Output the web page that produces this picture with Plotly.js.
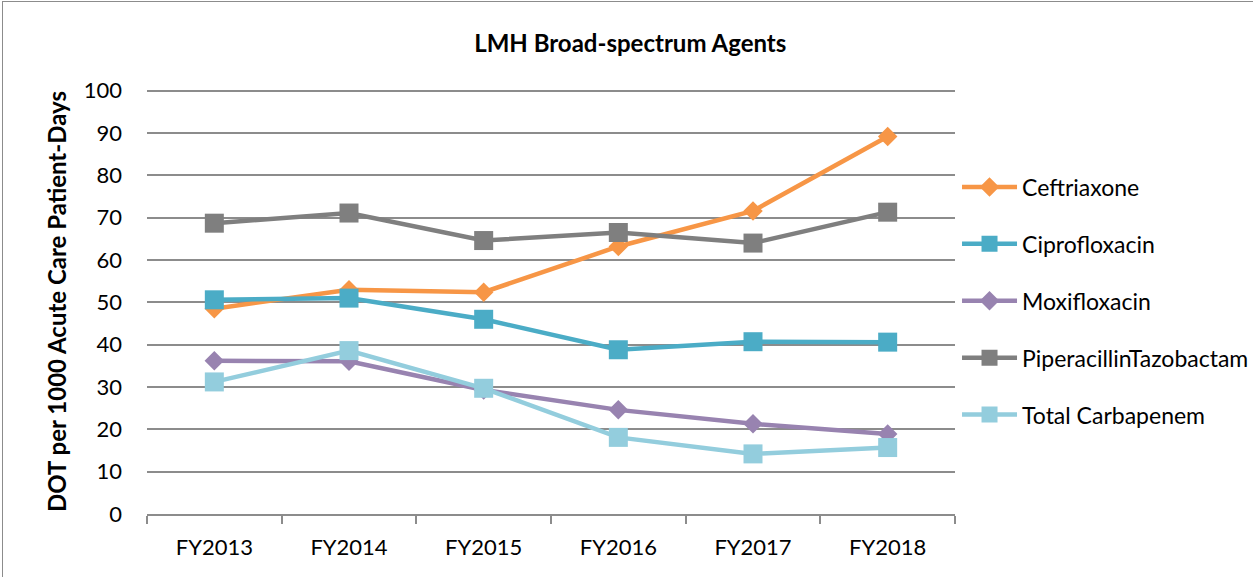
<!DOCTYPE html>
<html><head><meta charset="utf-8">
<script src="https://cdn.plot.ly/plotly-3.0.1.min.js"></script>
<style>
html,body{margin:0;padding:0;background:#fff;overflow:hidden}
#frame{position:absolute;left:2px;top:1px;width:1300px;height:640px;border:1px solid #8c8c8c;box-sizing:border-box}
#chart{position:absolute;left:0;top:0;width:1253px;height:577px}
</style></head>
<body>
<div id="frame"></div>
<div id="chart"></div>
<script>
const years = ["FY2013","FY2014","FY2015","FY2016","FY2017","FY2018"];
const ceftriaxone = [48.5, 53.0, 52.4, 63.2, 71.6, 89.2];
const ciprofloxacin = [50.6, 51.0, 46.0, 38.8, 40.7, 40.6];
const moxifloxacin = [36.2, 36.1, 29.3, 24.6, 21.3, 18.9];
const piperacillin = [68.7, 71.1, 64.6, 66.5, 64.0, 71.3];
const carbapenem = [31.2, 38.6, 29.7, 18.1, 14.2, 15.7];

function tr(name, y, color, symbol, size, group){
  return {x: years, y: y, name: name, type: "scatter", mode: "lines+markers",
    line: {color: color, width: 4.5}, marker: {color: color, symbol: symbol, size: size},
    legendgroup: group};
}
const data = [
  tr("Ceftriaxone", ceftriaxone, "#F79646", "diamond", 15, "a"),
  tr("Ciprofloxacin", ciprofloxacin, "#4BACC6", "square", 19, "b"),
  tr("Moxifloxacin", moxifloxacin, "#9883B0", "diamond", 15, "c"),
  tr("PiperacillinTazobactam", piperacillin, "#7F7F7F", "square", 19, "d"),
  tr("Total Carbapenem", carbapenem, "#93CDDD", "square", 19, "e")
];
const font = "Lato, 'Open Sans', sans-serif";
const layout = {
  width: 1253, height: 577,
  margin: {l: 147, r: 298, t: 89, b: 63, autoexpand: false},
  paper_bgcolor: "rgba(0,0,0,0)", plot_bgcolor: "#fff",
  font: {family: font, color: "#000", size: 22},
  title: {text: "<b>LMH Broad-spectrum Agents</b>", x: 0.503, xanchor: "center", y: 0.925, yanchor: "middle", font: {size: 24, family: font}},
  xaxis: {type: "category", showline: true, linecolor: "#8c8c8c", linewidth: 2,
    ticks: "outside", tickson: "boundaries", ticklen: 8, tickcolor: "#8c8c8c", tickwidth: 2,
    showgrid: false, tickfont: {size: 22}, range: [-0.5, 5.5], ticklabelstandoff: 13},
  yaxis: {range: [0, 100.4], tickvals: [0,10,20,30,40,50,60,70,80,90,100], showgrid: true, gridcolor: "#8c8c8c", gridwidth: 2,
    showline: false, zeroline: false, ticks: "", ticklen: 0, tickfont: {size: 22}, ticklabelstandoff: 24,
    title: {text: "<b>DOT per 1000 Acute Care Patient-Days</b>", font: {size: 24}, standoff: 10}},
  showlegend: true,
  legend: {x: 1.0025, xanchor: "left", y: 0.82, yanchor: "top", font: {size: 23},
    traceorder: "grouped", tracegroupgap: 24, itemwidth: 55, bgcolor: "rgba(0,0,0,0)"}
};
Plotly.newPlot("chart", data, layout, {displayModeBar: false, staticPlot: true});
</script>
</body></html>
